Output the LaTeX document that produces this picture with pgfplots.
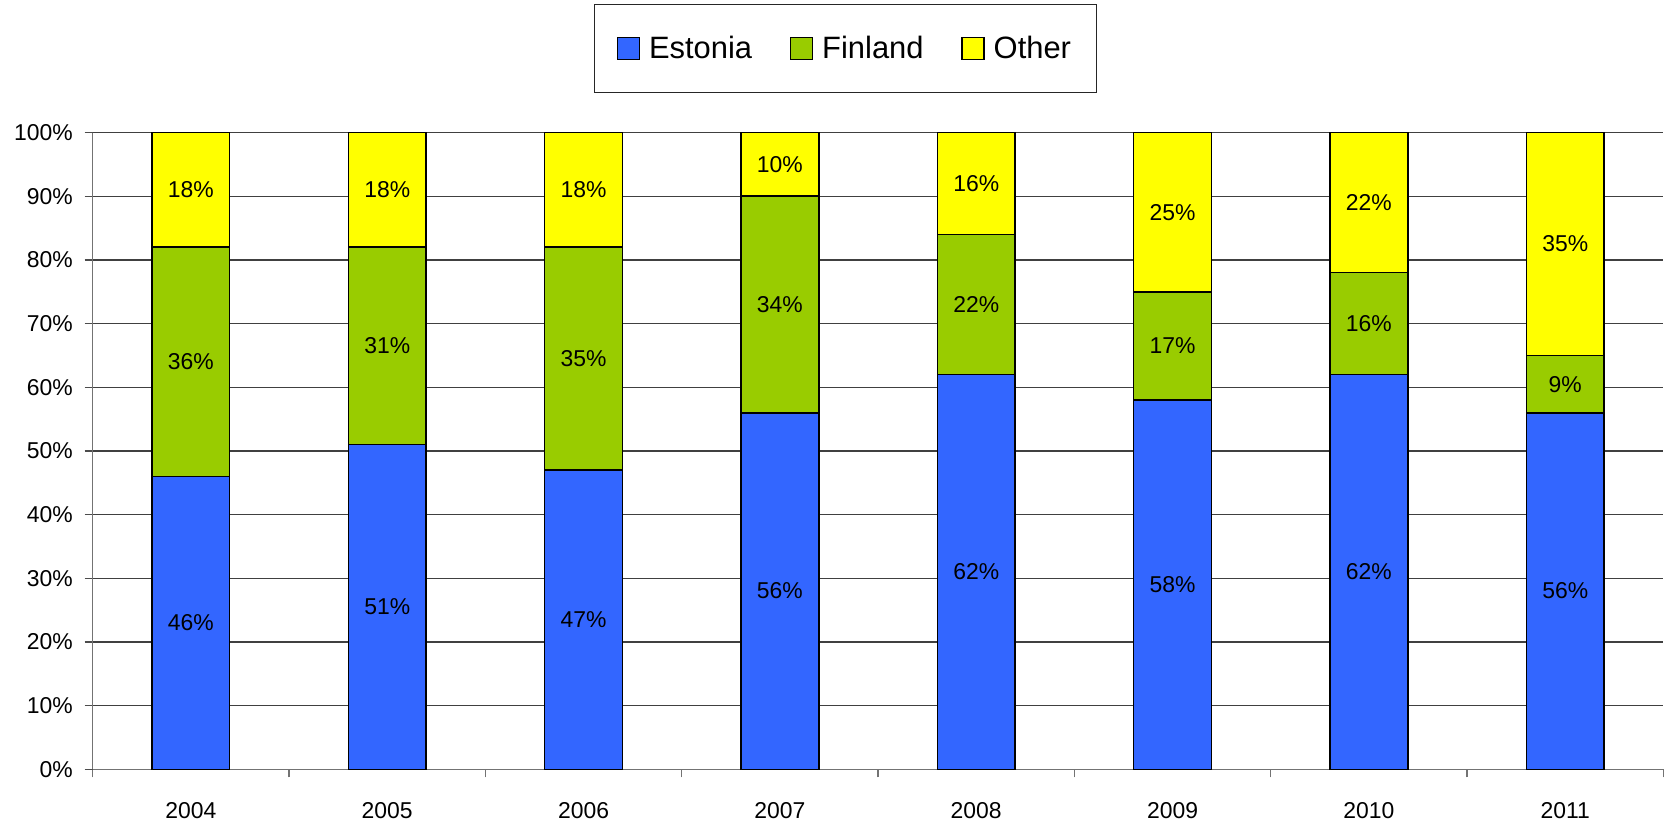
\documentclass[border=0pt]{standalone}
\usepackage{pgfplots}
\pgfplotsset{compat=1.18}
\usepackage{fontspec}
\setmainfont{Liberation Sans}
\definecolor{cEst}{HTML}{3366FF}
\definecolor{cFin}{HTML}{99CC00}
\definecolor{cOth}{HTML}{FFFF00}
\pgfplotstableread{
x est fin oth
0 46 36 18
1 51 31 18
2 47 35 18
3 56 34 10
4 62 22 16
5 58 17 25
6 62 16 22
7 56 9 35
}\datatable
\begin{document}
\begin{tikzpicture}
\begin{axis}[
  at={(0,0)}, anchor=south west,
  width=788pt, height=319.5pt, scale only axis,
  ybar stacked, bar width=0.396,
  xmin=-0.5, xmax=7.5, ymin=0, ymax=100,
  axis lines*=left,
  axis line style={black!55, line width=0.6pt},
  /pgf/number format/assume math mode=true,
  xtick={0,...,7},
  xticklabels={2004,2005,2006,2007,2008,2009,2010,2011},
  minor xtick={-0.5,0.5,...,7.5},
  ytick={0,10,...,100},
  yticklabel={\pgfmathprintnumber{\tick}\%},
  tick align=outside,
  major tick length=4pt, minor tick length=4pt,
  x tick style={draw=none},
  minor x tick style={draw=black!55, line width=0.6pt},
  y tick style={black!70, line width=0.6pt},
  ticklabel style={font=\fontsize{11.5}{13}\selectfont},
  xticklabel style={yshift=-9pt},
  yticklabel style={xshift=-2.5pt},
  ymajorgrids,
  grid style={black!75, line width=0.6pt},
  legend columns=3,
  legend style={at={(axis description cs:0.4795,1.132)}, anchor=center,
    draw=black!85, line width=0.5pt, inner xsep=11pt, inner ysep=13.5pt,
    font=\fontsize{15.5}{17}\selectfont,
    /tikz/every odd column/.append style={column sep=2.5pt},
    /tikz/every even column/.append style={column sep=17pt}},
  legend image code/.code={\draw[#1, draw=black, line width=0.7pt] (0pt,-5.5pt) rectangle (11pt,5.5pt);},
  visualization depends on=rawy \as \rawy,
  nodes near coords={\pgfmathprintnumber{\rawy}\%},
  every node near coord/.append style={anchor=center, font=\fontsize{11.5}{13}\selectfont},
]
\addplot[fill=cEst, draw=black, line width=0.75pt] table[x=x, y=est] {\datatable};
\addplot[fill=cFin, draw=black, line width=0.75pt] table[x=x, y=fin] {\datatable};
\addplot[fill=cOth, draw=black, line width=0.75pt] table[x=x, y=oth] {\datatable};
\legend{Estonia, Finland, Other}
\end{axis}
\path[use as bounding box] (-46.5pt,-25.5pt) rectangle (785.5pt,386pt);
\end{tikzpicture}
\end{document}
